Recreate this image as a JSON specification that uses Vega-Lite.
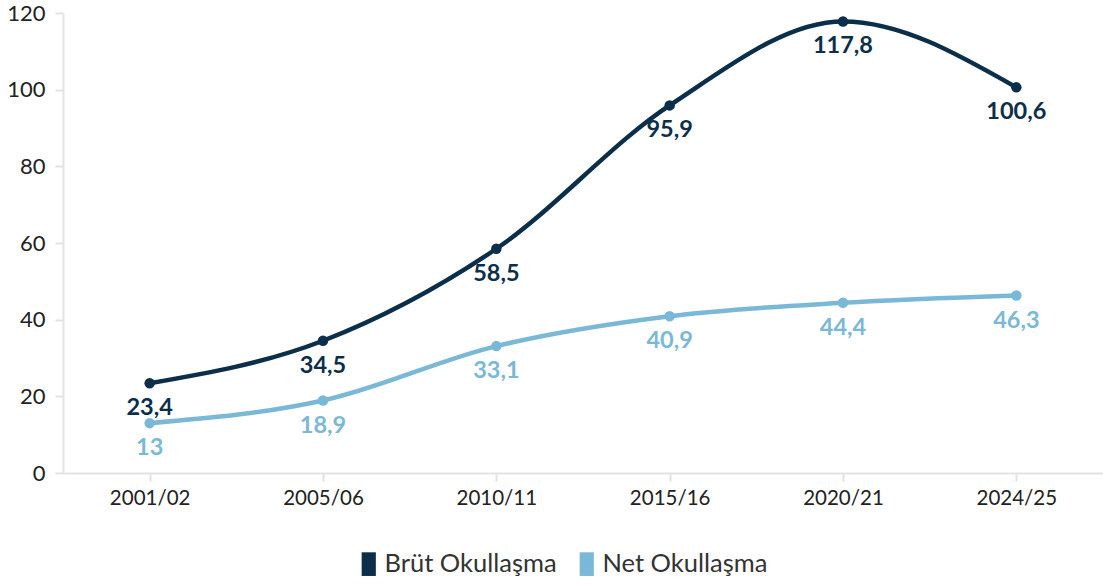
{
  "$schema": "https://vega.github.io/schema/vega-lite/v6.json",
  "autosize": {"type": "none"},
  "width": 1040,
  "height": 460,
  "padding": {"left": 63, "top": 13, "right": 0, "bottom": 112},
  "background": "white",
  "config": {
    "locale": {"number": {"decimal": ",", "thousands": ".", "grouping": [3], "currency": ["", " ₺"]}},
    "view": {"stroke": null},
    "font": "Lato"
  },
  "data": {
    "values": [
      {"yil": "2001/02", "seri": "Brüt Okullaşma", "deger": 23.4},
      {"yil": "2005/06", "seri": "Brüt Okullaşma", "deger": 34.5},
      {"yil": "2010/11", "seri": "Brüt Okullaşma", "deger": 58.5},
      {"yil": "2015/16", "seri": "Brüt Okullaşma", "deger": 95.9},
      {"yil": "2020/21", "seri": "Brüt Okullaşma", "deger": 117.8},
      {"yil": "2024/25", "seri": "Brüt Okullaşma", "deger": 100.6},
      {"yil": "2001/02", "seri": "Net Okullaşma", "deger": 13},
      {"yil": "2005/06", "seri": "Net Okullaşma", "deger": 18.9},
      {"yil": "2010/11", "seri": "Net Okullaşma", "deger": 33.1},
      {"yil": "2015/16", "seri": "Net Okullaşma", "deger": 40.9},
      {"yil": "2020/21", "seri": "Net Okullaşma", "deger": 44.4},
      {"yil": "2024/25", "seri": "Net Okullaşma", "deger": 46.3}
    ]
  },
  "encoding": {
    "x": {
      "field": "yil", "type": "ordinal", "sort": null,
      "scale": {"type": "point", "padding": 0.5},
      "axis": {
        "title": null, "labelAngle": 0, "labelFontSize": 20.5, "labelColor": "#222222",
        "labelPadding": 7, "tickSize": 8, "tickColor": "#e3e3e3", "domainColor": "#e3e3e3",
        "domainWidth": 2, "tickWidth": 2, "grid": false, "labelFont": "Lato"
      }
    },
    "y": {
      "field": "deger", "type": "quantitative",
      "scale": {"domain": [0, 120], "nice": false},
      "axis": {
        "title": null, "values": [0, 20, 40, 60, 80, 100, 120], "labelFontSize": 22,
        "labelColor": "#222222", "labelPadding": 10, "tickSize": 8, "tickColor": "#e3e3e3",
        "domainColor": "#e3e3e3", "domainWidth": 2, "tickWidth": 2, "grid": false, "labelFont": "Lato"
      }
    },
    "color": {
      "field": "seri", "type": "nominal",
      "scale": {"domain": ["Brüt Okullaşma", "Net Okullaşma"], "range": ["#0b2f4b", "#7ab8d8"]},
      "legend": {
        "title": null, "orient": "none", "direction": "horizontal",
        "legendX": 293, "legendY": 538,
        "symbolType": "M-0.6,-1H0.6V1H-0.6Z", "symbolSize": 560, "symbolStrokeWidth": 0,
        "labelFontSize": 25.5, "labelColor": "#333333", "labelFont": "Lato", "labelLimit": 0,
        "columnPadding": 17, "labelOffset": 3
      }
    }
  },
  "layer": [
    {"mark": {"type": "line", "interpolate": "monotone", "strokeWidth": 4.5}},
    {"mark": {"type": "point", "filled": true, "opacity": 1, "size": 110}},
    {
      "mark": {"type": "text", "dy": 25, "fontSize": 23.5, "fontWeight": "bold", "font": "Lato"},
      "encoding": {"text": {"field": "deger", "type": "quantitative", "format": "~r"}}
    }
  ]
}
